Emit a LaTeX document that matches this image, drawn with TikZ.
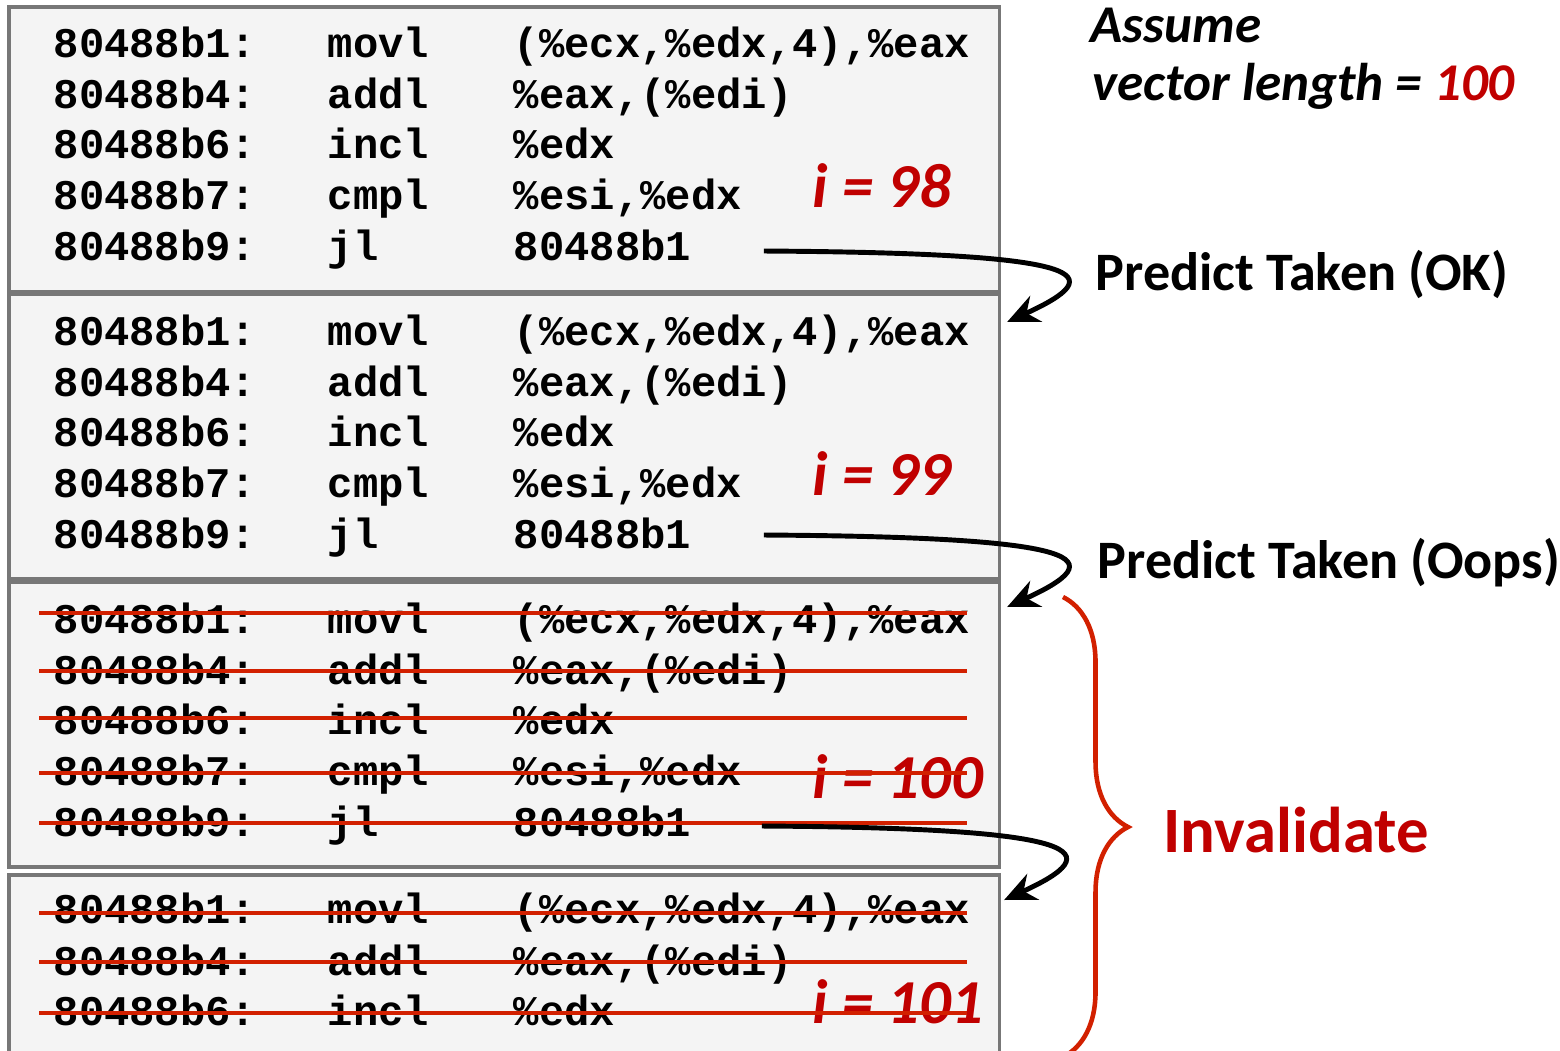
\documentclass[tikz,border=0pt]{standalone}
\usepackage{fontspec}
\setmainfont{Carlito}
\newfontfamily\codefont{Liberation Mono}
\usepackage{xcolor}
\usetikzlibrary{arrows.meta,positioning,calc,decorations.pathreplacing}
\definecolor{codebg}{HTML}{F4F4F4}
\definecolor{boxline}{HTML}{777777}
\definecolor{iterred}{HTML}{C00000}
\definecolor{killred}{HTML}{D22000}
\newcommand{\insn}[3]{\makebox[2.74cm][l]{#1}\makebox[1.86cm][l]{#2}#3}

\begin{document}
\begin{tikzpicture}[
  x=0.01cm, y=-0.01cm,
  box/.style={draw=boxline, line width=1pt, fill=codebg, anchor=north west, minimum width=9.9cm, inner sep=0pt},
  code/.style={anchor=base west, inner sep=0pt, font=\codefont\bfseries\fontsize{12}{14}\selectfont},
  iter/.style={anchor=base west, inner sep=0pt, text=iterred, font=\bfseries\itshape\fontsize{17.8}{21}\selectfont},
  note/.style={anchor=base west, inner sep=0pt, font=\bfseries\fontsize{15.4}{18}\selectfont},
  assumption/.style={anchor=base west, inner sep=0pt, font=\bfseries\itshape\fontsize{15.1}{18}\selectfont},
  strike/.style={draw=killred, line width=1.4pt},
  jump/.style={-{Stealth[length=9pt,width=8pt]}, line width=1.4pt},
  brace/.style={draw=killred, line width=1.3pt, decorate, decoration={brace, amplitude=0.65cm}}
]
\useasboundingbox (0,0) rectangle (1560,1050);

% loop body, one block per iteration
\node[box, minimum height=2.85cm] (blk1) at (7,5) {};
\node[box, minimum height=2.85cm] (blk2) at (7,292) {};
\node[box, minimum height=2.85cm] (blk3) at (7,580) {};
\node[box, minimum height=1.95cm] (blk4) at (7,873) {};

\node[code] (a1) at (53,57)  {\insn{80488b1:}{movl}{(\%ecx,\%edx,4),\%eax}};
\node[code] (a2) at (53,108) {\insn{80488b4:}{addl}{\%eax,(\%edi)}};
\node[code] (a3) at (53,158) {\insn{80488b6:}{incl}{\%edx}};
\node[code] (a4) at (53,209) {\insn{80488b7:}{cmpl}{\%esi,\%edx}};
\node[code] (a5) at (53,260) {\insn{80488b9:}{jl}{80488b1}};

\node[code] (b1) at (53,345) {\insn{80488b1:}{movl}{(\%ecx,\%edx,4),\%eax}};
\node[code] (b2) at (53,396) {\insn{80488b4:}{addl}{\%eax,(\%edi)}};
\node[code] (b3) at (53,446) {\insn{80488b6:}{incl}{\%edx}};
\node[code] (b4) at (53,497) {\insn{80488b7:}{cmpl}{\%esi,\%edx}};
\node[code] (b5) at (53,548) {\insn{80488b9:}{jl}{80488b1}};

\node[code] (c1) at (53,633) {\insn{80488b1:}{movl}{(\%ecx,\%edx,4),\%eax}};
\node[code] (c2) at (53,684) {\insn{80488b4:}{addl}{\%eax,(\%edi)}};
\node[code] (c3) at (53,734) {\insn{80488b6:}{incl}{\%edx}};
\node[code] (c4) at (53,785) {\insn{80488b7:}{cmpl}{\%esi,\%edx}};
\node[code] (c5) at (53,836) {\insn{80488b9:}{jl}{80488b1}};

\node[code] (d1) at (53,923)  {\insn{80488b1:}{movl}{(\%ecx,\%edx,4),\%eax}};
\node[code] (d2) at (53,975)  {\insn{80488b4:}{addl}{\%eax,(\%edi)}};
\node[code] (d3) at (53,1025) {\insn{80488b6:}{incl}{\%edx}};

\node[iter] (it98)  at (812,207)  {i = 98};
\node[iter] (it99)  at (812,495)  {i = 99};
\node[iter] (it100) at (812,798)  {i = 100};
\node[iter] (it101) at (812,1023) {i = 101};

% squashed instructions
\draw[strike] ($(c1.base west)+(-14,-20)$) -- +(928,0);
\draw[strike] ($(c2.base west)+(-14,-13)$) -- +(928,0);
\draw[strike] ($(c3.base west)+(-14,-16)$) -- +(928,0);
\draw[strike] ($(c4.base west)+(-14,-12)$) -- +(928,0);
\draw[strike] ($(c5.base west)+(-14,-13)$) -- +(928,0);
\draw[strike] ($(d1.base west)+(-14,-10)$) -- +(928,0);
\draw[strike] ($(d2.base west)+(-14,-13)$) -- +(928,0);
\draw[strike] ($(d3.base west)+(-14,-12)$) -- +(928,0);

% notes on the right
\node[assumption] (assume) at (1090,42) {Assume};
\node[assumption] (veclen) at (1092,100) {vector length = \textcolor{iterred}{100}};
\node[note] (okpred)   at (1095,290) {Predict Taken (OK)};
\node[note] (oopspred) at (1097,578) {Predict Taken (Oops)};
\node[note, text=iterred, font=\bfseries\fontsize{18.4}{22}\selectfont] (inval) at (1163,852) {Invalidate};

% predicted branches
\draw[jump] ($(a5.base east)+(72,-9)$) .. controls +(330,2) and +(105,-48) .. ($(blk2.north east)+(6,30)$);
\draw[jump] ($(b5.base east)+(72,-13)$) .. controls +(330,2) and +(105,-48) .. ($(blk3.north east)+(6,27)$);
\draw[jump] ($(c5.base east)+(70,-10)$) .. controls +(330,2) and +(105,-48) .. ($(blk4.north east)+(3,27)$);

\coordinate (brtop) at (1063,597);
\coordinate (brbot) at (1063,1057);
\draw[brace] (brtop) -- (brbot);
\end{tikzpicture}
\end{document}
